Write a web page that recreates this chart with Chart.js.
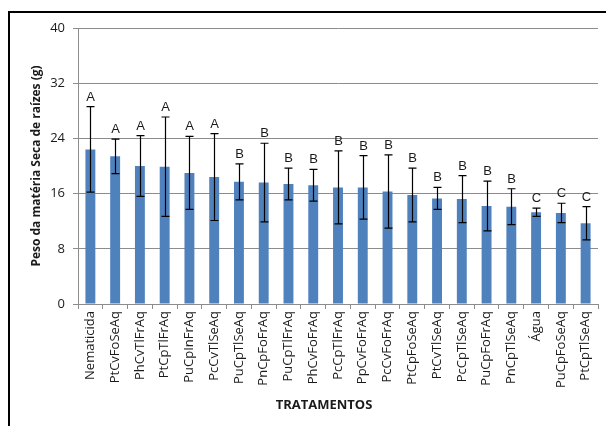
<!DOCTYPE html>
<html>
<head>
<meta charset="utf-8">
<script src="https://cdn.jsdelivr.net/npm/chart.js@4/dist/chart.umd.min.js"></script>
<style>
  html, body { margin: 0; padding: 0; background: #ffffff; }
  #wrap { position: relative; width: 606px; height: 426px; }
</style>
</head>
<body>
<div id="wrap"><canvas id="c" width="606" height="426"></canvas></div>
<script>
// Treatments, mean dry root mass (g), standard deviation and significance group
const treatments = [
  'Nematicida', 'PtCvFoSeAq', 'PhCvTlFrAq', 'PtCpTlFrAq', 'PuCpInFrAq', 'PcCvTlSeAq',
  'PuCpTlSeAq', 'PnCpFoFrAq', 'PuCpTlFrAq', 'PhCvFoFrAq', 'PcCpTlFrAq', 'PpCvFoFrAq',
  'PcCvFoFrAq', 'PtCpFoSeAq', 'PtCvTlSeAq', 'PcCpTlSeAq', 'PuCpFoFrAq', 'PnCpTlSeAq',
  'Água', 'PuCpFoSeAq', 'PtCpTlSeAq'
];
const means = [22.4, 21.4, 20.0, 19.9, 19.0, 18.4, 17.7, 17.6, 17.4, 17.2, 16.9, 16.9,
               16.3, 15.8, 15.3, 15.2, 14.2, 14.1, 13.3, 13.2, 11.7];
const sdev  = [6.2, 2.5, 4.4, 7.2, 5.3, 6.3, 2.6, 5.7, 2.3, 2.3, 5.3, 4.6,
               5.3, 3.9, 1.6, 3.4, 3.6, 2.6, 0.6, 1.4, 2.4];
const groups = ['A', 'A', 'A', 'A', 'A', 'A', 'B', 'B', 'B', 'B', 'B', 'B',
                'B', 'B', 'B', 'B', 'B', 'B', 'C', 'C', 'C'];
const yTicks = [0, 8, 16, 24, 32, 40];

const yTitle = 'Peso da matéria Seca de raízes (g)';
const xTitle = 'TRATAMENTOS';

const FONT = "'Open Sans', 'DejaVu Sans', sans-serif";
const GRID = '#8c8c8c';

// Error bars, group letters, axis titles and the outer frame
const decorations = {
  id: 'decorations',
  afterDatasetsDraw(chart) {
    const { ctx, scales: { y }, chartArea } = chart;
    const meta = chart.getDatasetMeta(0);
    ctx.save();
    ctx.strokeStyle = '#000000';
    ctx.lineWidth = 1.2;
    meta.data.forEach((bar, i) => {
      const cx = Math.round(bar.x) + 0.5;
      const top = y.getPixelForValue(means[i] + sdev[i]);
      const bot = y.getPixelForValue(means[i] - sdev[i]);
      ctx.beginPath();
      ctx.moveTo(cx, top); ctx.lineTo(cx, bot);
      ctx.moveTo(cx - 4, top); ctx.lineTo(cx + 4, top);
      ctx.moveTo(cx - 4, bot); ctx.lineTo(cx + 4, bot);
      ctx.stroke();

      ctx.fillStyle = '#1a1a1a';
      ctx.font = "13px 'Liberation Sans', Arial, sans-serif";
      ctx.textAlign = 'center';
      ctx.textBaseline = 'alphabetic';
      ctx.fillText(groups[i], cx, top - 6);
    });
    ctx.restore();
  },
  afterDraw(chart) {
    const { ctx, chartArea } = chart;
    ctx.save();
    ctx.fillStyle = '#1a1a1a';
    ctx.font = 'bold 12px ' + FONT;
    ctx.textAlign = 'center';
    ctx.textBaseline = 'middle';
    ctx.translate(37, (chartArea.top + chartArea.bottom) / 2);
    ctx.rotate(-Math.PI / 2);
    ctx.fillText(yTitle, 0, 0);
    ctx.restore();

    ctx.save();
    ctx.fillStyle = '#1a1a1a';
    ctx.font = 'bold 13px ' + FONT;
    ctx.textAlign = 'center';
    ctx.textBaseline = 'middle';
    ctx.fillText(xTitle, 324, 405);

    ctx.strokeStyle = '#000000';
    ctx.lineWidth = 2;
    ctx.beginPath();
    ctx.moveTo(9, 426);
    ctx.lineTo(9, 12);
    ctx.lineTo(606, 12);
    ctx.stroke();
    ctx.restore();
  }
};

new Chart(document.getElementById('c'), {
  type: 'bar',
  data: {
    labels: treatments,
    datasets: [{
      data: means,
      backgroundColor: '#4F81BD',
      borderWidth: 0,
      categoryPercentage: 1.0,
      barPercentage: 0.4
    }]
  },
  options: {
    responsive: false,
    devicePixelRatio: 1,
    animation: false,
    layout: { padding: { left: 0, right: 8, top: 28, bottom: 0 } },
    plugins: {
      legend: { display: false },
      tooltip: { enabled: false }
    },
    scales: {
      x: {
        grid: {
          offset: true,
          drawOnChartArea: false,
          drawTicks: true,
          tickLength: 5,
          color: GRID
        },
        border: { color: GRID, width: 1 },
        ticks: {
          autoSkip: false,
          maxRotation: 90,
          minRotation: 90,
          padding: 2,
          color: '#1a1a1a',
          font: { family: FONT, size: 13 }
        },
        afterFit(scale) { scale.height = 122; }
      },
      y: {
        min: 0,
        max: 40,
        afterBuildTicks(scale) { scale.ticks = yTicks.map(v => ({ value: v })); },
        grid: { color: GRID, tickLength: 5, lineWidth: 1 },
        border: { color: GRID, width: 1 },
        ticks: {
          padding: 8,
          color: '#1a1a1a',
          font: { family: FONT, size: 13 }
        },
        afterFit(scale) { scale.width = 78; }
      }
    }
  },
  plugins: [decorations]
});
</script>
</body>
</html>
